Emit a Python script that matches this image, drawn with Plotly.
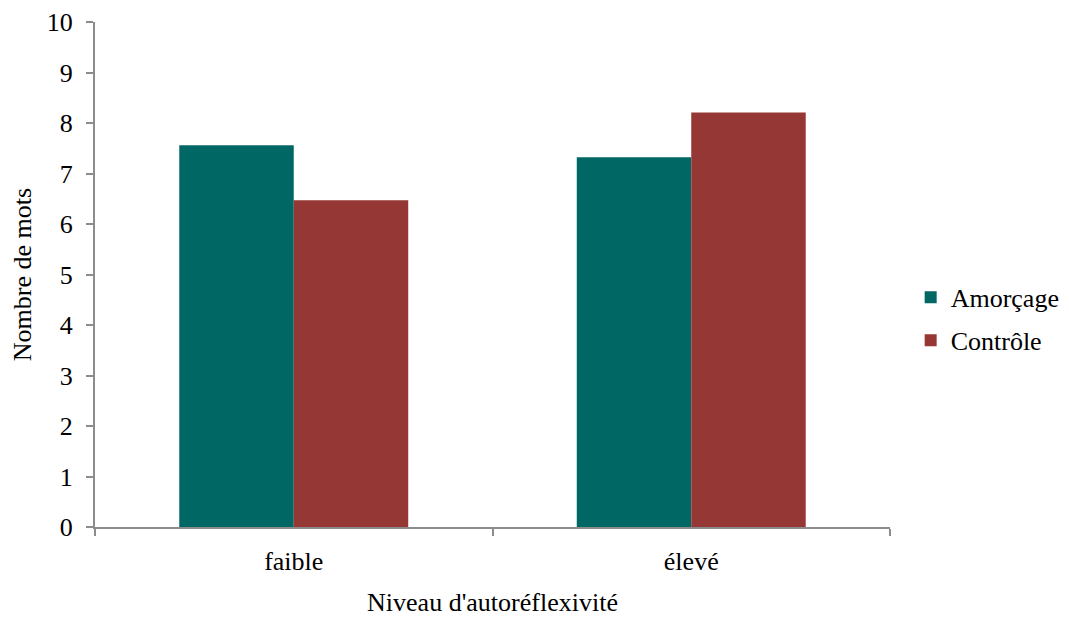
import plotly.graph_objects as go

categories = ["faible", "élevé"]
amorcage = [7.56, 7.32]
controle = [6.47, 8.21]
y_ticks = list(range(0, 11))

font = "Liberation Serif, Times New Roman, serif"
fs = 26

fig = go.Figure()
fig.add_trace(go.Bar(name="Amorçage", x=categories, y=amorcage, marker_color="#006765",
                     marker_line_width=0, legendgroup="a"))
fig.add_trace(go.Bar(name="Contrôle", x=categories, y=controle, marker_color="#953735",
                     marker_line_width=0, legendgroup="c"))

fig.update_layout(
    width=1069, height=619,
    margin=dict(l=87, r=183, t=14, b=100),
    paper_bgcolor="white", plot_bgcolor="white",
    barmode="group", bargap=0.424, bargroupgap=0,
    font=dict(family=font, size=fs, color="black"),
    legend=dict(x=1.026, y=0.412, xanchor="left", yanchor="middle",
                font=dict(size=fs), tracegroupgap=6, itemwidth=30),
    showlegend=True,
)
fig.update_xaxes(
    showline=True, linecolor="#8c8c8c", linewidth=2,
    ticks="outside", tickson="boundaries", ticklen=7, tickcolor="#8c8c8c", tickwidth=1.5,
    showgrid=False, automargin=False, ticklabelstandoff=10,
    title=dict(text="Niveau d'autoréflexivité", standoff=18, font=dict(size=fs)),
    tickfont=dict(size=fs),
)
fig.update_yaxes(
    range=[0, 10], tickvals=y_ticks,
    showline=True, linecolor="#8c8c8c", linewidth=2,
    ticks="outside", ticklen=7, tickcolor="#8c8c8c", tickwidth=1.5,
    showgrid=False, zeroline=False, automargin=False, ticklabelstandoff=8,
    title=dict(text="Nombre de mots", standoff=10, font=dict(size=fs)),
    tickfont=dict(size=fs),
)

fig.write_html("out.html")
